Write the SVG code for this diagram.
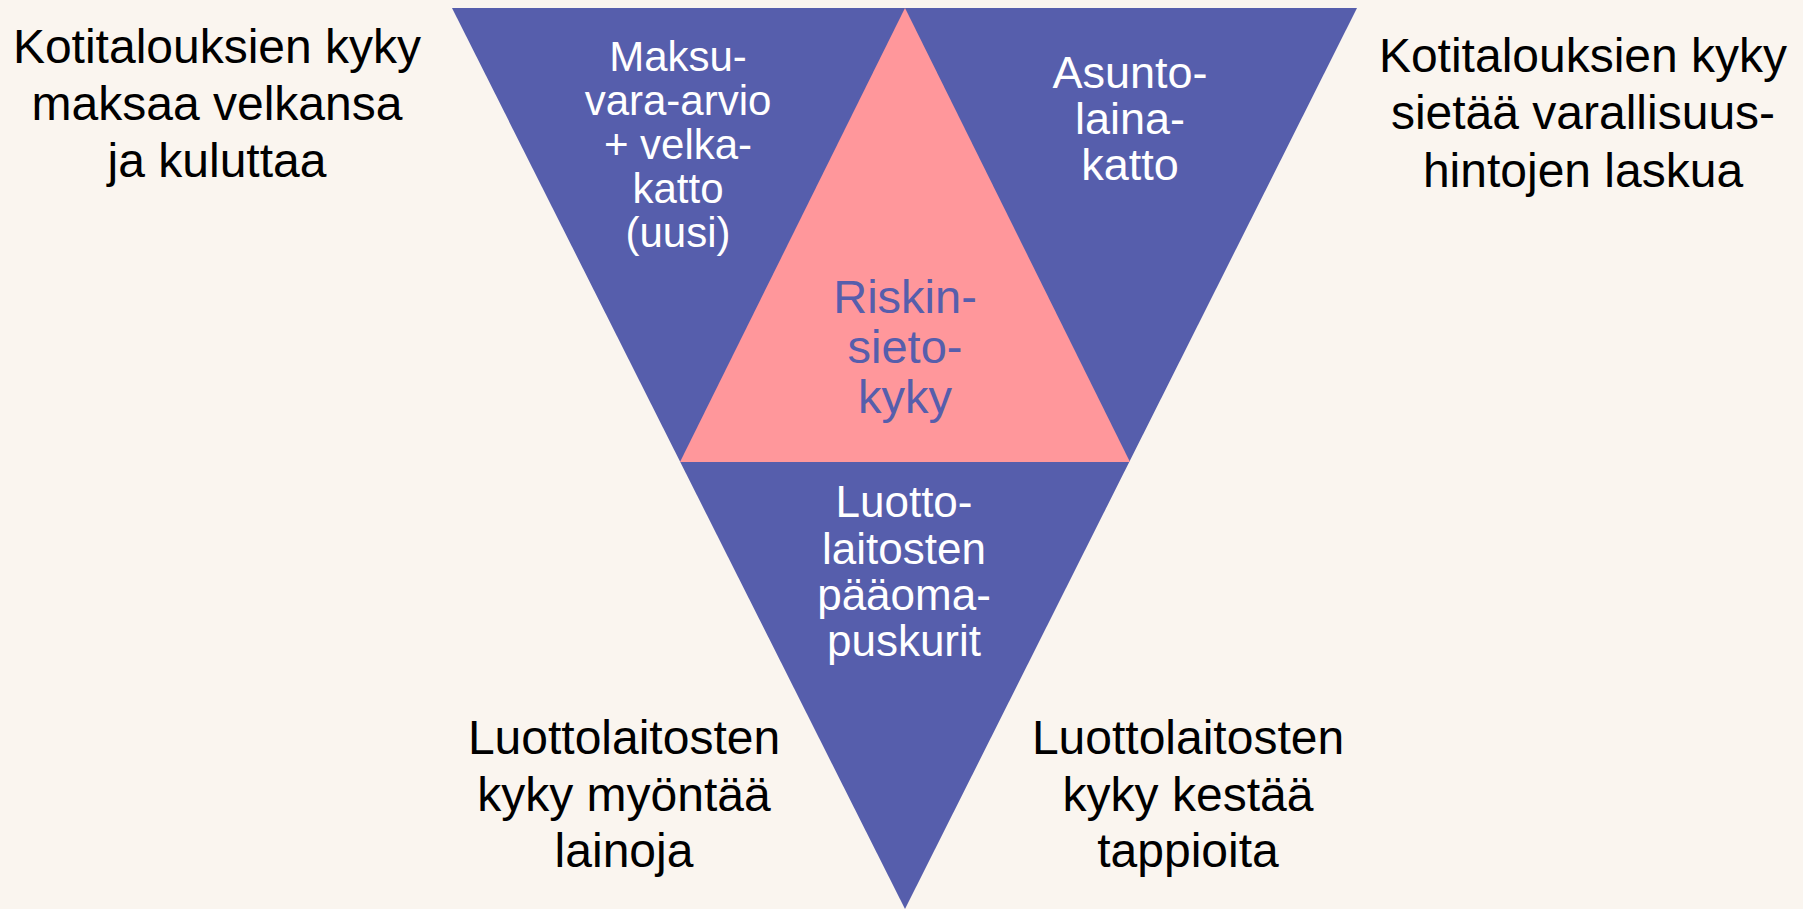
<svg xmlns="http://www.w3.org/2000/svg" width="1803" height="909" viewBox="0 0 1803 909">
<style>
text { font-family: "Liberation Sans", Arial, sans-serif; text-anchor: middle; }
.out { font-size: 48px; fill: #000000; }
.in { fill: #FFFFFF; }
.pink { font-size: 47px; fill: #565EAC; }
.blue { fill: #565EAC; }
.red { fill: #FF979B; }
</style>
<rect width="1803" height="909" fill="#FAF5EF"/>
<g id="funnel">
<polygon class="blue" points="452,8 1357,8 905,909"/>
</g>
<g id="riskinsietokyky">
<polygon class="red" points="905,8 1130,462 680,462"/>
<text class="pink"><tspan x="905" y="313">Riskin-</tspan><tspan x="905" y="363">sieto-</tspan><tspan x="905" y="413">kyky</tspan></text>
</g>
<g id="maksuvara">
<text class="in" font-size="42"><tspan x="678" y="71">Maksu-</tspan><tspan x="678" y="115">vara-arvio</tspan><tspan x="678" y="159">+ velka-</tspan><tspan x="678" y="203">katto</tspan><tspan x="678" y="247">(uusi)</tspan></text>
</g>
<g id="asuntolainakatto">
<text class="in" font-size="45"><tspan x="1130" y="88">Asunto-</tspan><tspan x="1130" y="134">laina-</tspan><tspan x="1130" y="180">katto</tspan></text>
</g>
<g id="paaomapuskurit">
<text class="in" font-size="44"><tspan x="904" y="517">Luotto-</tspan><tspan x="904" y="564">laitosten</tspan><tspan x="904" y="610">pääoma-</tspan><tspan x="904" y="656">puskurit</tspan></text>
</g>
<g id="kotitaloudet-maksu">
<text class="out"><tspan x="217" y="63">Kotitalouksien kyky</tspan><tspan x="217" y="120">maksaa velkansa</tspan><tspan x="217" y="177">ja kuluttaa</tspan></text>
</g>
<g id="kotitaloudet-hinnat">
<text class="out"><tspan x="1583" y="72">Kotitalouksien kyky</tspan><tspan x="1583" y="129">sietää varallisuus-</tspan><tspan x="1583" y="187">hintojen laskua</tspan></text>
</g>
<g id="luottolaitokset-myonto">
<text class="out"><tspan x="624" y="754">Luottolaitosten</tspan><tspan x="624" y="811">kyky myöntää</tspan><tspan x="624" y="867">lainoja</tspan></text>
</g>
<g id="luottolaitokset-tappiot">
<text class="out"><tspan x="1188" y="754">Luottolaitosten</tspan><tspan x="1188" y="811">kyky kestää</tspan><tspan x="1188" y="867">tappioita</tspan></text>
</g>
<g id="connectors"></g>
</svg>
